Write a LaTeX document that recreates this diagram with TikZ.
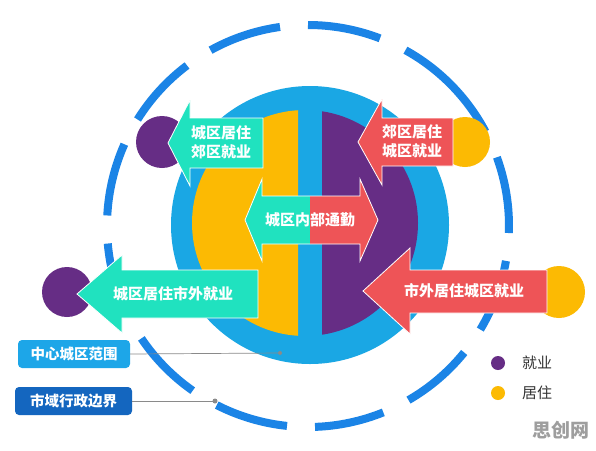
\documentclass[tikz,border=0pt]{standalone}
\usepackage{fontspec}
\newfontfamily\cjk{Noto Sans CJK SC}
\definecolor{ringblue}{HTML}{1AA7E4}
\definecolor{dashblue}{HTML}{1B84E6}
\definecolor{cyel}{HTML}{FCBA03}
\definecolor{cpur}{HTML}{662D85}
\definecolor{cgreen}{HTML}{20E2BF}
\definecolor{cred}{HTML}{EE5457}
\definecolor{boxa}{HTML}{1DA6E8}
\definecolor{boxb}{HTML}{1466BF}
\definecolor{legtext}{HTML}{333333}
\definecolor{leadgray}{HTML}{8A8A8A}
\tikzset{
  dashc/.style={draw=dashblue,line width=8pt,line cap=butt},
  arrowfill/.style={draw=white,line width=0.8pt,line join=miter},
  arrtext/.style={text=white,font=\cjk\bfseries\fontsize{15}{19}\selectfont,align=center,inner sep=0pt},
  labbox/.style={rounded corners=4pt,text=white,font=\cjk\bfseries\fontsize{14.5}{17}\selectfont,minimum height=28pt,inner sep=0pt},
  leader/.style={draw=leadgray,line width=0.7pt},
  legtxt/.style={text=legtext,font=\cjk\fontsize{15}{18}\selectfont,inner sep=0pt},
}
\begin{document}
\begin{tikzpicture}[x=1pt,y=-1pt]
\useasboundingbox (0,0) rectangle (596,450);
\fill[white] (0,0) rectangle (596,450);
% outer dashed boundary
\foreach \a/\b in {98/119,127/148,156/177,185/206,214/235,243/264,272/292,300/321,329/350,358/380,28/61,69/90}
  \draw[dashc] ([shift={(308,226)}]-\a:201) arc[start angle=-\a, end angle=-\b, radius=201];
% central circle
\fill[ringblue] (310,225) circle (139);
\begin{scope}
  \clip (100,0) rectangle (298,450);
  \fill[cyel] (305,223) circle (113);
\end{scope}
\begin{scope}
  \clip (322,0) rectangle (500,450);
  \fill[cpur] (305,223) circle (113);
\end{scope}
% side circles
\fill[cpur] (162,142) circle (26);
\fill[cyel] (465,142) circle (25);
\fill[cpur] (67,292) circle (25);
\fill[cyel] (559,292) circle (26);
% arrows
\fill[cgreen,arrowfill] (168,143) -- (190,100) -- (190,118) -- (263,118) -- (263,168) -- (190,168) -- (190,186) -- cycle;
\node[arrtext] (a1) at (221,142) {城区居住\\郊区就业};
\fill[cred,arrowfill] (358,142) -- (382,99) -- (382,118) -- (453,118) -- (453,166) -- (382,166) -- (382,185) -- cycle;
\node[arrtext] (a2) at (412,141) {郊区居住\\城区就业};
\fill[cgreen] (245,220) -- (262,179) -- (262,196) -- (310,196) -- (310,244) -- (262,244) -- (262,261) -- cycle;
\fill[cred] (378,220) -- (360,179) -- (360,196) -- (310,196) -- (310,244) -- (360,244) -- (360,261) -- cycle;
\draw[white,line width=0.8pt] (245,220) -- (262,179) -- (262,196) -- (360,196) -- (360,179) -- (378,220) -- (360,261) -- (360,244) -- (262,244) -- (262,261) -- cycle;
\node[arrtext] (a3) at (310,220) {城区内部通勤};
\fill[cgreen,arrowfill] (77,294) -- (122,255) -- (122,270) -- (258,270) -- (258,318) -- (122,318) -- (122,333) -- cycle;
\node[arrtext] (a4) at (173,294) {城区居住市外就业};
\fill[cred,arrowfill] (363,291) -- (410,248) -- (410,270) -- (547,270) -- (547,313) -- (410,313) -- (410,334) -- cycle;
\node[arrtext] (a5) at (464,291) {市外居住城区就业};
% labels with leaders
\node[labbox,fill=boxa,minimum width=112pt] (lab1) at (74,354) {中心城区范围};
\node[labbox,fill=boxb,minimum width=117pt] (lab2) at (73.5,401) {市域行政边界};
\coordinate (d1) at (280,353);
\coordinate (d2) at (215,401);
\draw[leader] (lab1.east) -- (d1);
\draw[leader] (lab2.east) -- (d2);
\fill[leadgray] (d1) circle (2);
\fill[leadgray] (d2) circle (2.5);
% legend
\fill[cpur] (498,363) circle (7);
\node[legtxt] (l1) at (537,363) {就业};
\fill[cyel] (498,393) circle (7);
\node[legtxt] (l2) at (537,393) {居住};
% watermark
\node[text=black!38,font=\cjk\bfseries\fontsize{19}{22}\selectfont,inner sep=0pt] (wm) at (561,430) {思创网};
\end{tikzpicture}
\end{document}
